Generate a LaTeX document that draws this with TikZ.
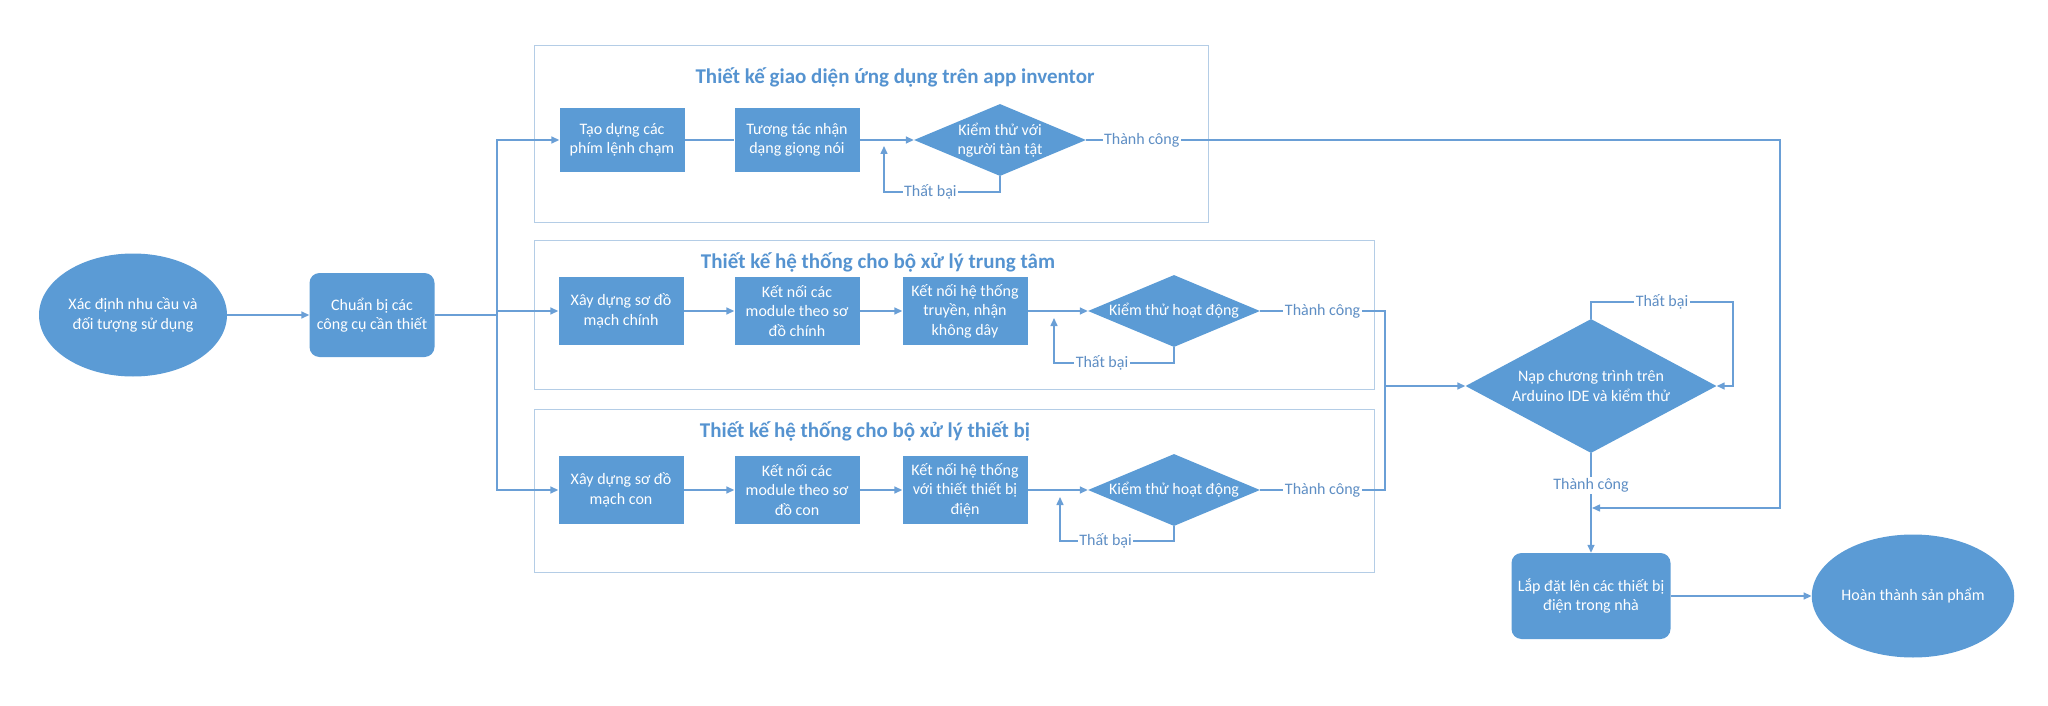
\documentclass[tikz,border=0pt]{standalone}
\usepackage{fontspec}
\setmainfont{Carlito}
\usetikzlibrary{shapes.geometric,arrows.meta}
\definecolor{boxblue}{HTML}{5B9BD5}
\definecolor{lineblue}{HTML}{6A9FD6}
\definecolor{framegray}{HTML}{B4CDE6}
\definecolor{labelblue}{HTML}{5E8EC4}
\definecolor{titleblue}{HTML}{5593D0}
\tikzset{
  every node/.style={font=\fontsize{16}{19.5}\selectfont},
  stepbox/.style={rectangle, fill=boxblue, text=white, align=center,
    minimum width=125pt, minimum height=68pt, inner sep=2pt},
  roundbox/.style={stepbox, rounded corners=10pt},
  test/.style={diamond, fill=boxblue, text=white, align=center, inner sep=0pt,
    shape aspect=2.4, minimum width=172pt, minimum height=72pt},
  endpoint/.style={ellipse, fill=boxblue, text=white, align=center,
    minimum width=188pt, minimum height=123pt, inner sep=0pt},
  frame/.style={draw=framegray, line width=1pt},
  grouptitle/.style={text=titleblue, font=\fontsize{21}{25}\selectfont\bfseries},
  link/.style={draw=lineblue, line width=1.5pt},
  flow/.style={link, -{Triangle[length=8pt,width=7pt]}},
  result/.style={fill=white, text=labelblue, inner sep=1.5pt},
}
\begin{document}
\begin{tikzpicture}[x=1pt,y=-1pt]
    \useasboundingbox (0,0) rectangle (2048,706);
    % groups
    \draw[frame] (534,46) rectangle (1208,222);
    \draw[frame] (534,240) rectangle (1374,389);
    \draw[frame] (534,409) rectangle (1374,572);
    \node[grouptitle] (appt) at (895,77) {Thiết kế giao diện ứng dụng trên app inventor};
    \node[grouptitle] (cput) at (878,262) {Thiết kế hệ thống cho bộ xử lý trung tâm};
    \node[grouptitle] (devt) at (865,431) {Thiết kế hệ thống cho bộ xử lý thiết bị};

    \node[endpoint] (need) at (133,315) {Xác định nhu cầu và\\đối tượng sử dụng};
    \node[roundbox, minimum height=84pt] (prep) at (372,315) {Chuẩn bị các\\công cụ cần thiết};
    \coordinate (split) at (497,315);

    \node[stepbox, minimum height=64pt] (keys) at (622,140) {Tạo dựng các\\phím lệnh chạm};
    \node[stepbox, minimum height=64pt] (voice) at (797,140) {Tương tác nhận\\dạng giọng nói};
    \node[test] (usertest) at (1000,140) {Kiểm thử với\\người tàn tật};

    \node[stepbox] (mainsch) at (621,311) {Xây dựng sơ đồ\\mạch chính};
    \node[stepbox] (mainmod) at (797,311) {Kết nối các\\module theo sơ\\đồ chính};
    \node[stepbox] (wireless) at (965,311) {Kết nối hệ thống\\truyền, nhận\\không dây};
    \node[test] (cputest) at (1174,311) {Kiểm thử hoạt động};

    \node[stepbox] (subsch) at (621,490) {Xây dựng sơ đồ\\mạch con};
    \node[stepbox] (submod) at (797,490) {Kết nối các\\module theo sơ\\đồ con};
    \node[stepbox] (devlink) at (965,490) {Kết nối hệ thống\\với thiết thiết bị\\điện};
    \node[test] (devtest) at (1174,490) {Kiểm thử hoạt động};

    \node[test, shape aspect=1.87, minimum width=251pt, minimum height=134pt] (upload) at (1591,386) {Nạp chương trình trên\\Arduino IDE và kiểm thử};
    \node[roundbox, minimum width=159pt, minimum height=86pt] (install) at (1591,596) {Lắp đặt lên các thiết bị\\điện trong nhà};
    \node[endpoint] (done) at (1913,596) {Hoàn thành sản phẩm};

    \coordinate (retry1) at (884,146);
    \coordinate (retry2) at (1054,318);
    \coordinate (retry3) at (1060,497);
    \coordinate (retry4) at (1733,302);
    \coordinate (merge) at (1385,386);
    \coordinate (okline) at (1780,508);
    \coordinate (joinok) at (1592,508);

    \draw[flow] (need) -- (prep);
    \draw[link] (prep) -- (split);
    \draw[flow] (split) |- (keys);
    \draw[flow] (split) |- (mainsch);
    \draw[flow] (split) |- (subsch);

    \draw[link] (keys) -- (voice);
    \draw[flow] (voice) -- (usertest);
    \draw[flow] (mainsch) -- (mainmod);
    \draw[flow] (mainmod) -- (wireless);
    \draw[flow] (wireless) -- (cputest);
    \draw[flow] (subsch) -- (submod);
    \draw[flow] (submod) -- (devlink);
    \draw[flow] (devlink) -- (devtest);

    \draw[flow] (usertest.south) -- ++(0,16) -| node[result, pos=0.3] {Thất bại} (retry1);
    \draw[flow] (cputest.south) -- ++(0,16) -| node[result, pos=0.3] {Thất bại} (retry2);
    \draw[flow] (devtest.south) -- ++(0,15) -| node[result, pos=0.3] {Thất bại} (retry3);

    \draw[flow] (usertest.east) -- node[result, pos=0.08] {Thành công} (usertest.east -| okline) -- (okline) -- (joinok);
    \draw[link] (cputest.east) -- node[result] {Thành công} (cputest.east -| merge) -- (merge);
    \draw[link] (devtest.east) -- node[result] {Thành công} (devtest.east -| merge) -- (merge);
    \draw[flow] (merge) -- (upload);

    \draw[flow] (upload.north) |- node[result, pos=0.75] {Thất bại} (retry4) |- (upload.east);
    \draw[flow] (upload) -- node[result, pos=0.32] {Thành công} (install);
    \draw[flow] (install) -- (done);
\end{tikzpicture}
\end{document}
